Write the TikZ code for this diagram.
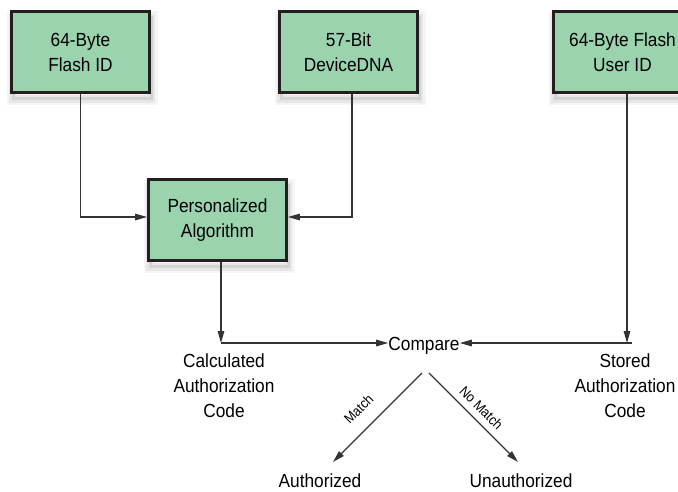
\documentclass[tikz,border=0pt]{standalone}
\usepackage{fontspec}
\setmainfont[FakeStretch=0.91]{Liberation Sans}
\usetikzlibrary{arrows.meta}
\definecolor{boxfill}{HTML}{9AD3AD}
\definecolor{boxline}{HTML}{231F20}
\definecolor{conn}{HTML}{333333}
\tikzset{
  softshadow/.style={
    preaction={draw=black, draw opacity=0.04, line width=13pt, transform canvas={xshift=1.5pt,yshift=-6pt}},
    preaction={draw=black, draw opacity=0.06, line width=8pt, transform canvas={xshift=1.5pt,yshift=-6pt}},
    preaction={draw=black, draw opacity=0.08, line width=3pt, transform canvas={xshift=1.5pt,yshift=-6pt}}},
  idbox/.style={softshadow, draw=boxline, line width=2.8pt, fill=boxfill, minimum width=138pt, minimum height=81pt,
    align=center, inner sep=0pt, font=\fontsize{19}{25}\selectfont},
  txt/.style={align=center, inner sep=0pt, font=\fontsize{19}{25}\selectfont},
  lbl/.style={inner sep=0pt, font=\fontsize{14}{16}\selectfont},
  conline/.style={draw=conn, line width=1.3pt},
  arr/.style={conline, -{Triangle[length=12pt,width=6.5pt]}}
}
\begin{document}
\begin{tikzpicture}[x=1pt,y=-1pt]
\useasboundingbox (0,0) rectangle (678,491);
\clip (0,0) rectangle (678,491);
\fill[white] (0,0) rectangle (678,491);
% boxes
\node[idbox] (b1) at (80.5,52) {64-Byte\\Flash ID};
\node[idbox] (b2) at (348.5,52) {57-Bit\\DeviceDNA};
\node[idbox] (b3) at (622.5,52) {64-Byte Flash\\User ID};
\node[idbox] (b4) at (217.5,220) {Personalized\\Algorithm};
% texts
\node[txt, anchor=base] (cmp) at (424,350) {Compare};
\node[txt] (calc) at (224,386) {Calculated\\Authorization\\Code};
\node[txt] (stored) at (625,386) {Stored\\Authorization\\Code};
\node[txt, anchor=base] (auth) at (320,487.5) {Authorized};
\node[txt, anchor=base] (unauth) at (521,487.5) {Unauthorized};
% coordinates
\coordinate (j1) at (221,343);
\coordinate (j2) at (632,343);
\coordinate (m0) at (422,373);
\coordinate (m1) at (333,462);
\coordinate (n0) at (429,373);
\coordinate (n1) at (518,462);
% connectors
\draw[arr] (b1.south) |- (b4.west |- 0,217);
\draw[arr] ([xshift=3.5pt]b2.south) |- (b4.east |- 0,217);
\draw[arr] ([xshift=3.5pt]b4.south) -- (j1);
\draw[arr] (j1) -- (j1 -| cmp.west);
\draw[arr] ([xshift=4.5pt]b3.south) -- ([xshift=4.5pt]b3.south |- j2);
\draw[arr] (j2) -- (j2 -| cmp.east);
\draw[arr] (m0) -- (m1);
\draw[arr] (n0) -- (n1);
% labels
\node[lbl, rotate=45] (lm) at (358.5,409) {Match};
\node[lbl, rotate=-45] (ln) at (481.5,408) {No Match};
\end{tikzpicture}
\end{document}
